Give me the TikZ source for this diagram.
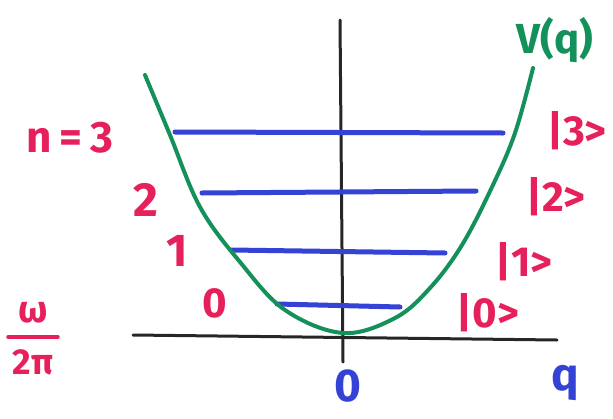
\documentclass[tikz,border=0pt]{standalone}
\usepackage{fontspec}
\setmainfont{Fira Sans}
\definecolor{pinkc}{HTML}{E6205A}
\definecolor{bluec}{HTML}{3442D6}
\definecolor{greenc}{HTML}{14915A}
\begin{document}
\begin{tikzpicture}[x=1pt,y=-1pt,
  axis/.style={line width=3pt,black!85,line cap=round},
  level/.style={line width=5pt,bluec,line cap=round},
  pot/.style={line width=4pt,greenc,line cap=round},
  lab/.style={text=pinkc,inner sep=0pt,font=\bfseries\fontsize{42}{46}\selectfont},
  bluelab/.style={text=bluec,inner sep=0pt,font=\bfseries\fontsize{46}{50}\selectfont},
  greenlab/.style={text=greenc,inner sep=0pt,font=\bfseries\fontsize{42}{46}\selectfont}]
\useasboundingbox (0,0) rectangle (613,418);
% axes
\coordinate (xl) at (133,335);
\coordinate (xr) at (557,340);
\coordinate (yt) at (340,20);
\coordinate (yb) at (343,362);
\draw[axis] (xl) -- (xr);
\draw[axis] (yt) -- (yb);
% energy levels
\coordinate (l3a) at (175,132); \coordinate (l3b) at (503,133);
\coordinate (l2a) at (202,193); \coordinate (l2b) at (476,191);
\coordinate (l1a) at (231,250); \coordinate (l1b) at (445,253);
\coordinate (l0a) at (277,304); \coordinate (l0b) at (400,307);
\draw[level] (l3a) -- (l3b);
\draw[level] (l2a) -- (l2b);
\draw[level] (l1a) -- (l1b);
\draw[level] (l0a) -- (l0b);
% potential
\draw[pot] plot[smooth,tension=0.6] coordinates {(145,75) (170,135) (200,207) (240,262) (285,310) (343,333) (395,318) (430,288) (462,245) (492,187) (515,133) (533,68)};
% labels
\node[greenlab] (V) at (555,40) {V(q)};
\node[lab,font=\bfseries\fontsize{44}{48}\selectfont] (n3) at (70,138) {n\hspace{0.18em}=\hspace{0.18em}3};
\node[lab,font=\bfseries\fontsize{48}{52}\selectfont] (n2) at (146,200) {2};
\node[lab,font=\bfseries\fontsize{46}{50}\selectfont] (n1) at (177,251) {1};
\node[lab] (n0) at (215,303) {0};
\node[lab] (k3) at (577,131) {|3>};
\node[lab] (k2) at (556,197) {|2>};
\node[lab] (k1) at (524,262) {|1>};
\node[lab] (k0) at (488,313) {|0>};
\node[bluelab] (o) at (348,386) {0};
\node[bluelab] (q) at (565,383) {q};
% omega / 2pi
\node[lab,font=\bfseries\fontsize{38}{42}\selectfont] (om) at (33,313) {ω};
\node[lab,font=\bfseries\fontsize{36}{40}\selectfont] (tp) at (33,362) {2π};
\coordinate (fa) at (8,337);
\coordinate (fb) at (58,337);
\draw[line width=3.5pt,pinkc,line cap=round] (fa) -- (fb);
\end{tikzpicture}
\end{document}
